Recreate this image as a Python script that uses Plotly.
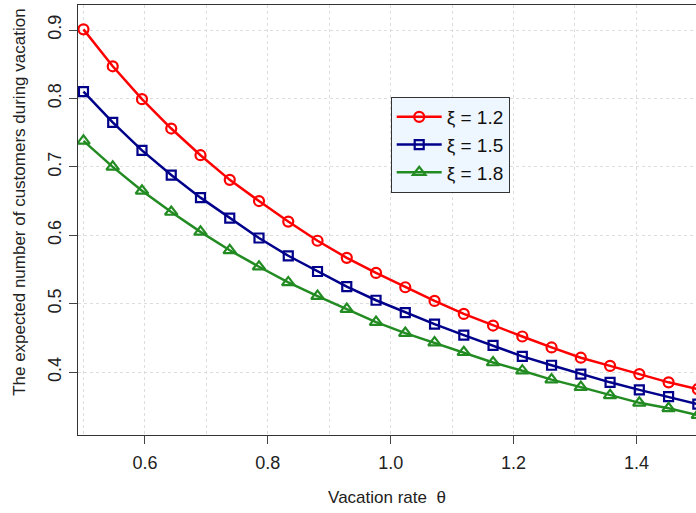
import plotly.graph_objects as go

# Vacation rate theta: 22 evenly spaced values from 0.5 to 1.5
theta = [0.5 + i / 21 for i in range(22)]

# Expected number of customers during vacation for each xi
xi_labels = ["ξ = 1.2", "ξ = 1.5", "ξ = 1.8"]
y_xi12 = [0.901, 0.847, 0.799, 0.756, 0.717, 0.681, 0.650, 0.620, 0.592, 0.567, 0.545,
          0.524, 0.504, 0.485, 0.468, 0.452, 0.436, 0.421, 0.409, 0.397, 0.385, 0.375]
y_xi15 = [0.810, 0.765, 0.724, 0.688, 0.655, 0.625, 0.596, 0.570, 0.547, 0.525, 0.505,
          0.487, 0.470, 0.454, 0.439, 0.423, 0.410, 0.397, 0.385, 0.374, 0.364, 0.353]
y_xi18 = [0.738, 0.700, 0.665, 0.634, 0.605, 0.578, 0.554, 0.531, 0.511, 0.492, 0.473,
          0.457, 0.443, 0.429, 0.414, 0.402, 0.389, 0.378, 0.366, 0.355, 0.347, 0.337]

x_ticks = [0.6, 0.8, 1.0, 1.2, 1.4]
y_ticks = [0.4, 0.5, 0.6, 0.7, 0.8, 0.9]

styles = [
    ("#FF0000", "circle-open", 10),
    ("#00008B", "square-open", 9),
    ("#228B22", "triangle-up-open", 11),
]

fig = go.Figure()
for label, ys, (color, symbol, size) in zip(xi_labels, [y_xi12, y_xi15, y_xi18], styles):
    fig.add_trace(go.Scatter(
        x=theta, y=ys, name=label, mode="lines+markers",
        line=dict(color=color, width=2.5),
        marker=dict(symbol=symbol, size=size, color=color, line=dict(width=2.2, color=color)),
    ))

font_family = "Liberation Sans, Arial, sans-serif"
grid_color = "#DDDDDD"
fig.update_layout(
    width=696, height=513,
    margin=dict(l=78, r=0, t=5, b=78),
    paper_bgcolor="white", plot_bgcolor="white",
    font=dict(family=font_family, size=18, color="#222222"),
    showlegend=True,
    legend=dict(
        x=0.506, y=0.786, xanchor="left", yanchor="top",
        bgcolor="#EEF6FF", bordercolor="#333333", borderwidth=1,
        font=dict(size=19, color="#111111"),
        tracegroupgap=0, itemwidth=45,
    ),
)
fig.update_xaxes(
    range=[0.4911, 1.497],
    tickvals=x_ticks, ticktext=[f"{v:.1f}" for v in x_ticks],
    ticks="outside", ticklen=8, tickcolor="#444444",
    ticklabelstandoff=3,
    showline=True, linecolor="#333333", linewidth=1, mirror=True,
    showgrid=True, gridcolor=grid_color, griddash="dot", gridwidth=1,
    minor=dict(dtick=0.1, tick0=0.5, showgrid=True, gridcolor=grid_color, griddash="dot", ticks=""),
    zeroline=False,
    title=dict(text="Vacation rate  θ", standoff=19, font=dict(size=17)),
)
fig.update_yaxes(
    range=[0.308, 0.9366],
    tickvals=y_ticks, ticktext=[f"{v:.1f}" for v in y_ticks],
    tickangle=-90,
    ticks="outside", ticklen=8, tickcolor="#444444",
    ticklabelstandoff=1,
    showline=True, linecolor="#333333", linewidth=1, mirror=True,
    showgrid=True, gridcolor=grid_color, griddash="dot", gridwidth=1,
    zeroline=False,
)

# Y-axis title placed as a rotated annotation, centred slightly above the plot middle
fig.add_annotation(
    text="The expected number of customers during vacation",
    xref="paper", yref="paper", x=-0.094, y=0.542,
    xanchor="center", yanchor="middle", textangle=-90,
    showarrow=False, font=dict(size=17, color="#222222"),
)

fig.write_html("out.html")
